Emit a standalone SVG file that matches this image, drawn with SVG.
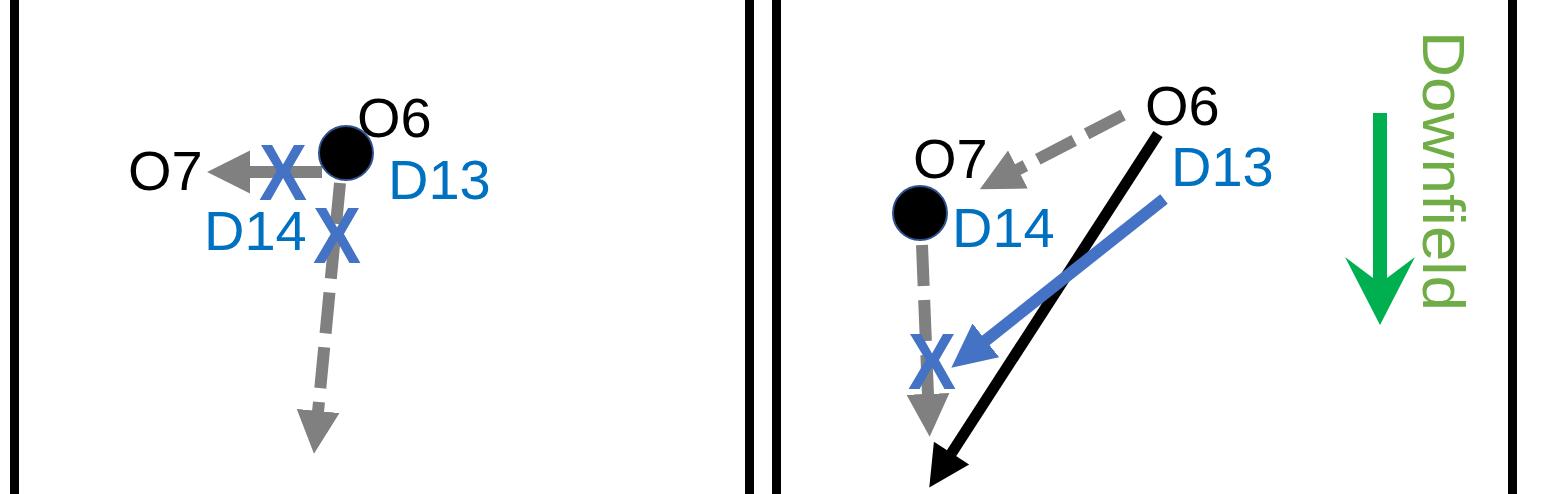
<svg xmlns="http://www.w3.org/2000/svg" width="1541" height="494" viewBox="0 0 1541 494">
<style>
.lbl{font-family:"Liberation Sans",Arial,sans-serif;font-size:56px}
.o{fill:#000}
.d{fill:#0070C0}
.x{font-family:"Liberation Sans",Arial,sans-serif;font-size:80px;font-weight:bold;fill:#4472C4;text-anchor:middle}
.bar{fill:#000}
.gray{stroke:#808080;stroke-width:12;fill:none}
.dash{stroke-dasharray:41 14}
.blk{stroke:#000;stroke-width:11;fill:none}
.blu{stroke:#4472C4;stroke-width:12;fill:none}
.dot{fill:#000;stroke:#2F528F;stroke-width:2}
</style>
<defs>
<marker id="hg" markerUnits="userSpaceOnUse" markerWidth="44" markerHeight="44" viewBox="-1 -21 42 42" refX="0" refY="0" orient="auto"><path d="M-1,-20.5 L40,0 L-1,20.5 z" fill="#808080"/></marker>
<marker id="hk" markerUnits="userSpaceOnUse" markerWidth="44" markerHeight="44" viewBox="-1 -22 42 44" refX="0" refY="0" orient="auto"><path d="M-1,-21 L40,0 L-1,21 z" fill="#000"/></marker>
<marker id="hb" markerUnits="userSpaceOnUse" markerWidth="44" markerHeight="44" viewBox="-1 -21 42 42" refX="0" refY="0" orient="auto"><path d="M-1,-20.5 L41,0 L-1,20.5 z" fill="#4472C4"/></marker>
</defs>
<rect width="1541" height="494" fill="#fff"/>
<g id="field-lines">
<rect class="bar" x="10" y="0" width="9" height="494"/>
<rect class="bar" x="745" y="0" width="9" height="494"/>
<rect class="bar" x="772" y="0" width="9" height="494"/>
<rect class="bar" x="1508" y="0" width="9" height="494"/>
</g>
<g id="connectors">
<line class="gray" x1="322" y1="172" x2="249" y2="172" marker-end="url(#hg)"/>
<line class="gray dash" x1="340" y1="183" x2="318" y2="412" marker-end="url(#hg)"/>
<line class="gray dash" x1="1123" y1="115" x2="1017" y2="170" marker-end="url(#hg)"/>
<line class="gray dash" x1="922" y1="245" x2="928" y2="395" marker-end="url(#hg)"/>
<line class="blk" x1="1158" y1="134" x2="951" y2="454" marker-end="url(#hk)"/>
<line class="blu" x1="1164" y1="199" x2="985" y2="341" marker-end="url(#hb)"/>
</g>
<g id="left-O6"><circle class="dot" cx="346" cy="153" r="27"/><text class="lbl o" x="357" y="137">O6</text></g>
<g id="left-O7"><text class="lbl o" x="128" y="190">O7</text></g>
<g id="left-D13"><text class="lbl d" x="388" y="199">D13</text></g>
<g id="left-D14"><text class="lbl d" x="204" y="250">D14</text></g>
<g id="left-X1"><text class="x" transform="translate(283,200) scale(0.9,1)">X</text></g>
<g id="left-X2"><text class="x" transform="translate(337,263) scale(0.9,1)">X</text></g>
<g id="right-O6"><text class="lbl o" x="1145" y="125">O6</text></g>
<g id="right-O7"><text class="lbl o" x="913" y="178">O7</text></g>
<g id="right-D13"><text class="lbl d" x="1171" y="186">D13</text></g>
<g id="right-D14"><circle class="dot" cx="920" cy="213" r="27"/><text class="lbl d" x="952" y="247">D14</text></g>
<g id="right-X"><text class="x" transform="translate(932,389) scale(0.9,1)">X</text></g>
<g id="downfield">
<polygon points="1373,113 1387,113 1387,278 1415,257 1380,325 1345,257 1373,278" fill="#00B050"/>
<text transform="translate(1423,31) rotate(90)" font-family="Liberation Sans, Arial, sans-serif" font-size="60" fill="#70AD47" textLength="280" lengthAdjust="spacingAndGlyphs">Downfield</text>
</g>
</svg>
